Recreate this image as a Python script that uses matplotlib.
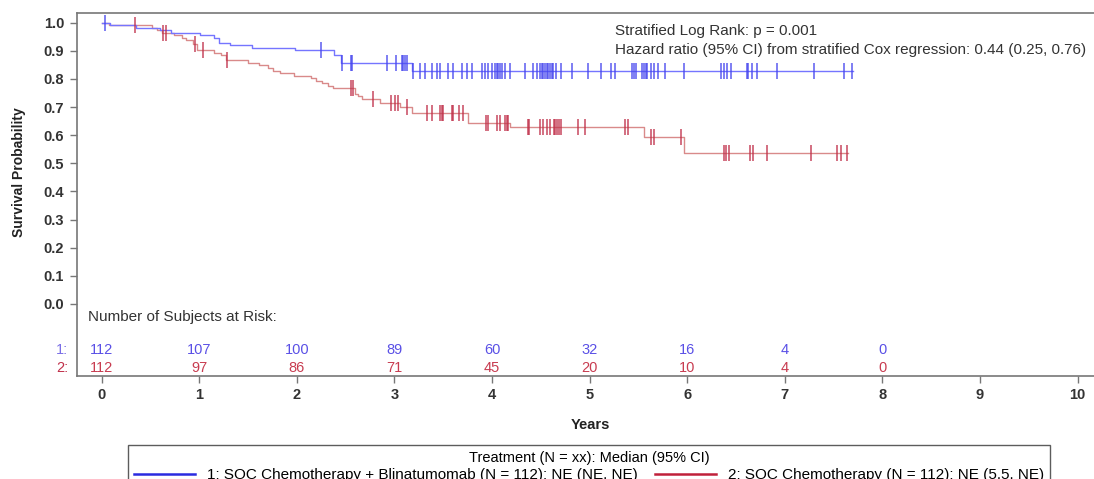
import numpy as np
import matplotlib.pyplot as plt
from matplotlib.lines import Line2D

plt.rcParams['font.family'] = ['Liberation Sans', 'DejaVu Sans']

# Kaplan-Meier steps (time in years, survival)
blue_event_t = [0.09, 0.35, 0.60, 0.71, 1.01, 1.15, 1.20, 1.32, 1.54, 1.98, 2.38, 2.45, 3.18]
blue_event_s = [0.991, 0.982, 0.973, 0.964, 0.955, 0.946, 0.928, 0.920, 0.911, 0.902, 0.884, 0.858, 0.828]
blue_end = 7.70
blue_censor_t = [0.03, 2.25, 2.46, 2.55, 2.57, 2.92, 3.02, 3.08, 3.09, 3.11, 3.13, 3.19, 3.26,
                 3.31, 3.38, 3.44, 3.47, 3.55, 3.60, 3.69, 3.74, 3.79, 3.90, 3.93, 3.96, 4.00,
                 4.03, 4.05, 4.06, 4.08, 4.10, 4.13, 4.18, 4.34, 4.42, 4.46, 4.49, 4.51, 4.52,
                 4.54, 4.56, 4.57, 4.59, 4.61, 4.62, 4.66, 4.71, 4.82, 4.98, 5.12, 5.22, 5.26,
                 5.43, 5.46, 5.48, 5.54, 5.56, 5.58, 5.59, 5.63, 5.66, 5.70, 5.77, 5.97, 6.35,
                 6.38, 6.41, 6.45, 6.61, 6.62, 6.66, 6.72, 6.92, 7.30, 7.61, 7.69]

red_event_t = [0.07, 0.52, 0.57, 0.62, 0.74, 0.82, 0.86, 0.94, 0.98, 1.15, 1.22, 1.27, 1.50,
               1.61, 1.70, 1.76, 1.83, 1.97, 2.14, 2.20, 2.26, 2.32, 2.37, 2.60, 2.63, 2.67,
               2.85, 3.06, 3.18, 3.75, 4.18, 5.56, 5.97]
red_event_s = [0.991, 0.982, 0.973, 0.964, 0.955, 0.946, 0.937, 0.925, 0.902, 0.893, 0.884,
               0.866, 0.857, 0.848, 0.839, 0.830, 0.821, 0.812, 0.803, 0.794, 0.785, 0.776,
               0.767, 0.748, 0.739, 0.729, 0.715, 0.700, 0.680, 0.645, 0.628, 0.593, 0.536]
red_end = 7.65
red_censor_t = [0.34, 0.63, 0.66, 0.96, 1.04, 1.28, 2.55, 2.58, 2.78, 2.96, 3.01, 3.04, 3.13,
                3.33, 3.39, 3.47, 3.49, 3.50, 3.59, 3.60, 3.66, 3.70, 3.94, 3.96, 4.05, 4.08,
                4.13, 4.15, 4.16, 4.37, 4.38, 4.49, 4.52, 4.56, 4.59, 4.64, 4.65, 4.67, 4.69,
                4.71, 4.88, 4.95, 5.36, 5.39, 5.63, 5.66, 5.94, 6.38, 6.40, 6.43, 6.64, 6.67,
                6.82, 7.27, 7.54, 7.58, 7.64]

# number at risk
risk_times = [0, 1, 2, 3, 4, 5, 6, 7, 8]
risk_blue = [112, 107, 100, 89, 60, 32, 16, 4, 0]
risk_red = [112, 97, 86, 71, 45, 20, 10, 4, 0]

blue_label = "1: SOC Chemotherapy + Blinatumomab (N = 112): NE (NE, NE)"
red_label = "2: SOC Chemotherapy (N = 112): NE (5.5, NE)"


def km_curve(ev_t, ev_s, end):
    t = np.concatenate([[0.0], ev_t, [end]])
    s = np.concatenate([[1.0], ev_s, [ev_s[-1]]])
    return t, s


def surv_at(ev_t, ev_s, times):
    idx = np.searchsorted(ev_t, times, side='right')
    s = np.concatenate([[1.0], ev_s])
    return s[idx]


fig = plt.figure(figsize=(10.94, 4.79), dpi=100)
ax = fig.add_axes([0.0701, 0.2157, 0.93, 0.7572])

blue_line = '#7575ff'
red_line = '#d98a8a'
blue_mark = '#4646ee'
red_mark = '#c0304a'

bt, bs = km_curve(blue_event_t, blue_event_s, blue_end)
rt, rs = km_curve(red_event_t, red_event_s, red_end)
ax.step(rt, rs, where='post', color=red_line, lw=1.0)
ax.step(bt, bs, where='post', color=blue_line, lw=1.0)
ax.plot(red_censor_t, surv_at(red_event_t, red_event_s, red_censor_t), ls='none',
        marker='|', ms=11, mew=1.3, color=red_mark, alpha=0.75)
ax.plot(blue_censor_t, surv_at(blue_event_t, blue_event_s, blue_censor_t), ls='none',
        marker='|', ms=11, mew=1.3, color=blue_mark, alpha=0.75)

ax.set_xlim(-0.256, 10.17)
ax.set_ylim(-0.255, 1.0345)
ax.set_xticks(range(11))
ax.set_yticks(np.round(np.arange(0, 1.01, 0.1), 1))
ax.set_yticklabels([f"{v:.1f}" for v in np.arange(0, 1.01, 0.1)])
ax.tick_params(direction='out', length=5, width=1, color='#777777',
               labelsize=10.5, labelcolor='#333333', pad=4)
for lab in ax.get_xticklabels() + ax.get_yticklabels():
    lab.set_fontweight('bold')
for sp in ['left', 'bottom', 'top']:
    ax.spines[sp].set_color('#777777')
    ax.spines[sp].set_linewidth(1.2)
ax.spines['right'].set_visible(False)

ax.set_ylabel("Survival Probability", fontsize=10, fontweight='bold', color='#222222')
ax.yaxis.set_label_coords(-0.05, 0.562)
ax.set_xlabel("Years", fontsize=10.5, fontweight='bold', color='#222222')
ax.xaxis.set_label_coords(0.5046, -0.117)

ax.text(5.26, 0.97, "Stratified Log Rank: p = 0.001", fontsize=11, color='#333333',
        ha='left', va='center')
ax.text(5.26, 0.902, "Hazard ratio (95% CI) from stratified Cox regression: 0.44 (0.25, 0.76)",
        fontsize=11, color='#333333', ha='left', va='center')

# at-risk table inside the axes below 0
ax.text(-0.14, -0.045, "Number of Subjects at Risk:", fontsize=11, color='#333333',
        ha='left', va='center')
ax.text(-0.34, -0.1635, "1:", fontsize=10.5, color='#7a6ee6', ha='right', va='center', clip_on=False)
ax.text(-0.34, -0.229, "2:", fontsize=10.5, color=red_mark, ha='right', va='center', clip_on=False)
for t, nb, nr in zip(risk_times, risk_blue, risk_red):
    ax.text(t, -0.1635, str(nb), fontsize=10.5, color='#5a50e6', ha='center', va='center')
    ax.text(t, -0.229, str(nr), fontsize=10.5, color='#c83c50', ha='center', va='center')

handles = [Line2D([], [], color='#2a2ae0', lw=1.8), Line2D([], [], color='#c0203a', lw=1.8)]
leg = fig.legend(handles, [blue_label, red_label], ncol=2, mode='expand',
                 loc='upper left', bbox_to_anchor=(128 / 1094, 0, 922 / 1094, 1 - 445 / 479),
                 title="Treatment (N = xx): Median (95% CI)", fontsize=11,
                 title_fontsize=10.5, handlelength=4.0, handletextpad=0.75,
                 borderpad=0.4, borderaxespad=0, frameon=True, fancybox=False,
                 labelspacing=0.2)
leg.get_frame().set_edgecolor('#333333')
leg.get_frame().set_linewidth(1.0)
leg._legend_box.sep = 2

fig.savefig("out.png", dpi=100)
